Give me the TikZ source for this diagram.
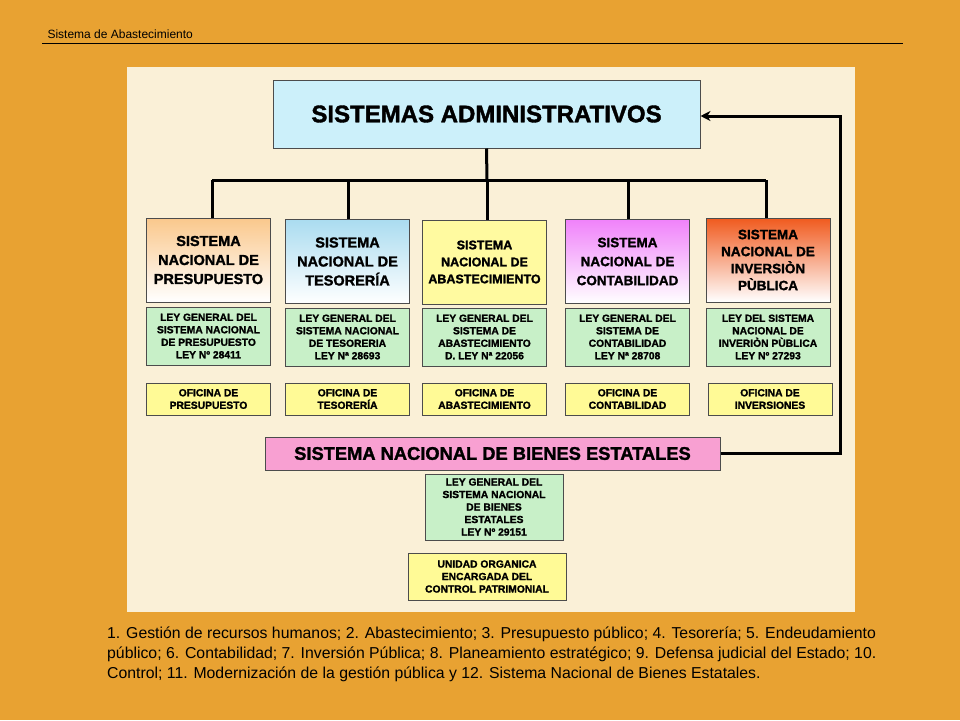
\documentclass[tikz,border=0pt]{standalone}
\usepackage{fontspec}
\setmainfont{Liberation Sans}[BoldFeatures={FakeBold=1.6}]
\usetikzlibrary{arrows.meta}
\definecolor{bgor}{RGB}{232,162,50}
\definecolor{cream}{RGB}{250,240,215}
\definecolor{ofiy}{RGB}{255,250,150}
\definecolor{topc}{RGB}{204,240,250}
\definecolor{c1}{RGB}{250,200,140}
\definecolor{c2}{RGB}{170,220,240}
\definecolor{c3}{RGB}{255,250,160}
\definecolor{c4}{RGB}{240,130,250}
\definecolor{c5}{RGB}{240,90,30}
\definecolor{pinkb}{RGB}{248,160,210}
\definecolor{leyg}{RGB}{200,240,200}
\begin{document}
\begin{tikzpicture}[x=1pt,y=-1pt,
  every node/.style={font=\bfseries},
  sbox/.style={draw=black!70,line width=1pt,align=center,minimum width=124pt,minimum height=84pt,inner sep=1pt,font=\fontsize{14.5}{19}\bfseries\selectfont},
  ley/.style={draw=black!70,line width=1pt,fill=leyg,align=center,minimum width=124pt,minimum height=58pt,inner sep=1pt,font=\fontsize{10.3}{12.5}\bfseries\selectfont},
  ofi/.style={draw=black!70,line width=1pt,fill=ofiy,align=center,minimum width=124pt,minimum height=32pt,inner sep=1pt,font=\fontsize{10.3}{12.5}\bfseries\selectfont},
  conn/.style={line width=3pt}]
\fill[bgor] (0,0) rectangle (960,720);
\useasboundingbox (0,0) rectangle (960,720);
\node[anchor=base west,font=\fontsize{12}{14}\selectfont] (hdr) at (44,38) {Sistema de Abastecimiento};
\draw[line width=0.6pt] (42,43) -- (903,43);
\fill[cream] (127,67) rectangle (855,612);
\node[draw=black!70,line width=1pt,fill=topc,minimum width=427pt,minimum height=68pt,font=\fontsize{24}{28}\bfseries\selectfont] (top) at (486.5,114) {SISTEMAS ADMINISTRATIVOS};
\node[sbox,top color=c1,bottom color=white] (s1) at (208.5,260) {SISTEMA\\NACIONAL DE\\PRESUPUESTO};
\node[sbox,top color=c2,bottom color=white] (s2) at (347.5,261.5) {SISTEMA\\NACIONAL DE\\TESORERÍA};
\node[sbox,fill=c3,font=\fontsize{12.5}{17}\bfseries\selectfont] (s3) at (484.5,262) {SISTEMA\\NACIONAL DE\\ABASTECIMIENTO};
\node[sbox,top color=c4,bottom color=white,font=\fontsize{13.5}{19}\bfseries\selectfont] (s4) at (627.5,261.5) {SISTEMA\\NACIONAL DE\\CONTABILIDAD};
\node[sbox,top color=c5,bottom color=white,font=\fontsize{13.5}{17}\bfseries\selectfont] (s5) at (768,260) {SISTEMA\\NACIONAL DE\\INVERSIÒN\\PÙBLICA};
\coordinate (hb) at (487,180);
\draw[conn] (top.south) -- (hb);
\draw[conn] (212,180) -- (766,180);
\foreach \n/\x in {s1/212,s2/348,s3/487,s4/628,s5/766}{\draw[conn] (\x,180) -- (\x,0 |- \n.north);}
\node[ley] (l1) at (208.5,336) {LEY GENERAL DEL\\SISTEMA NACIONAL\\DE PRESUPUESTO\\LEY Nº 28411};
\node[ley] (l2) at (347.5,337) {LEY GENERAL DEL\\SISTEMA NACIONAL\\DE TESORERIA\\LEY Nª 28693};
\node[ley] (l3) at (484.5,337) {LEY GENERAL DEL\\SISTEMA DE\\ABASTECIMIENTO\\D. LEY Nª 22056};
\node[ley] (l4) at (627.5,337) {LEY GENERAL DEL\\SISTEMA DE\\CONTABILIDAD\\LEY Nª 28708};
\node[ley] (l5) at (768,337) {LEY DEL SISTEMA\\NACIONAL DE\\INVERIÒN PÙBLICA\\LEY Nº  27293};
\node[ofi] (o1) at (208.5,399) {OFICINA DE\\PRESUPUESTO};
\node[ofi] (o2) at (347.5,399) {OFICINA DE\\TESORERÍA};
\node[ofi] (o3) at (484.5,399) {OFICINA DE\\ABASTECIMIENTO};
\node[ofi] (o4) at (627.5,399) {OFICINA DE\\CONTABILIDAD};
\node[ofi] (o5) at (770,399) {OFICINA DE\\INVERSIONES};
\node[draw=black!70,line width=1pt,fill=pinkb,minimum width=455pt,minimum height=33pt,font=\fontsize{18.3}{20}\bfseries\selectfont] (bn) at (492.5,453.5) {SISTEMA NACIONAL DE BIENES ESTATALES};
\coordinate (k1) at (840,453.5);
\coordinate (k2) at (840,116);
\draw[line width=3pt,-{Stealth[length=10pt,width=10pt]}] (bn.east) -- (k1) -- (k2) -- (top.east |- k2);
\node[ley,minimum width=138pt,minimum height=66pt] (lb) at (494,507) {LEY GENERAL DEL\\SISTEMA NACIONAL\\DE BIENES\\ESTATALES\\LEY Nº 29151};
\node[ofi,minimum width=158pt,minimum height=47pt] (ub) at (487,576.5) {UNIDAD ORGANICA\\ENCARGADA DEL\\CONTROL PATRIMONIAL};
\node[anchor=north west,align=left,font=\fontsize{15.8}{20}\selectfont,inner sep=0pt] (foot) at (107,627) {1. Gestión de recursos humanos; 2. Abastecimiento; 3. Presupuesto público; 4. Tesorería;  5. Endeudamiento\\público; 6. Contabilidad; 7. Inversión Pública; 8. Planeamiento estratégico; 9. Defensa judicial del Estado; 10.\\Control; 11. Modernización de la gestión pública y 12. Sistema Nacional de Bienes Estatales.};
\end{tikzpicture}
\end{document}
